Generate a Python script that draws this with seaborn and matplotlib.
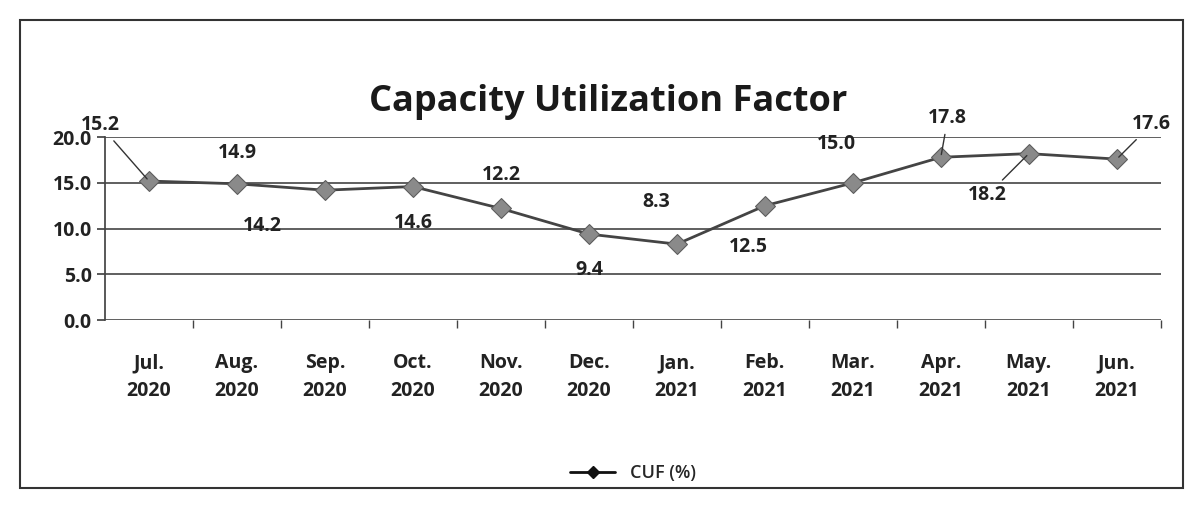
import matplotlib
matplotlib.use("Agg")
import matplotlib.pyplot as plt
import seaborn as sns
import pandas as pd
from matplotlib.patches import Rectangle
from matplotlib.lines import Line2D

months = ["Jul.\n2020", "Aug.\n2020", "Sep.\n2020", "Oct.\n2020", "Nov.\n2020", "Dec.\n2020",
          "Jan.\n2021", "Feb.\n2021", "Mar.\n2021", "Apr.\n2021", "May.\n2021", "Jun.\n2021"]
cuf = [15.2, 14.9, 14.2, 14.6, 12.2, 9.4, 8.3, 12.5, 15.0, 17.8, 18.2, 17.6]
yticks = [0, 5, 10, 15, 20]

df = pd.DataFrame({"month": months, "CUF (%)": cuf, "pos": range(len(months))})

sns.set_theme(style="white")
plt.rcParams["font.family"] = ["Open Sans", "DejaVu Sans"]

fig = plt.figure(figsize=(11.93, 5.08), dpi=100)
ax = fig.add_axes([0.088, 0.37, 0.885, 0.36])

sns.lineplot(data=df, x="pos", y="CUF (%)", ax=ax, color="#444444", linewidth=2,
             marker="D", markersize=10, markerfacecolor="#8a8a8a", markeredgecolor="#5a5a5a",
             legend=False)

for y in yticks:
    ax.axhline(y, color="#444444", linewidth=1.2, zorder=0)

# label offsets in points (dx, dy) and whether a leader line is drawn
offsets = [(-35, 40, True), (0, 22, False), (-45, -26, False), (0, -26, False),
           (0, 24, False), (0, -26, False), (-15, 30, False), (-12, -30, False),
           (-12, 28, False), (5, 28, True), (-30, -30, True), (25, 25, True)]
for i, (v, (dx, dy, lead)) in enumerate(zip(cuf, offsets)):
    props = dict(arrowstyle="-", color="#333333", lw=1) if lead else None
    ax.annotate(f"{v:.1f}", xy=(i, v), xytext=(dx, dy), textcoords="offset points",
                ha="center", va="center", fontsize=14, fontweight="bold", color="#222222",
                arrowprops=props)

ax.set_xlim(-0.5, len(months) - 0.5)
ax.set_ylim(0, 20)
ax.set_yticks(yticks)
ax.set_yticklabels([f"{t:.1f}" for t in yticks], fontsize=14, fontweight="bold", color="#222222")
ax.set_xticks(range(len(months)))
ax.set_xticklabels(months, fontsize=14, fontweight="bold", color="#222222", linespacing=1.5)
ax.set_xticks([i + 0.5 for i in range(len(months))], minor=True)
ax.tick_params(axis="x", which="major", pad=24, length=0)
ax.tick_params(axis="x", which="minor", bottom=True, length=6, color="#444444")
ax.tick_params(axis="y", length=6, left=True, color="#444444")
ax.set_xlabel("")
ax.set_ylabel("")
for s in ["top", "right", "bottom"]:
    ax.spines[s].set_visible(False)
ax.spines["left"].set_color("#444444")

handle = Line2D([], [], color="#111111", linewidth=2, marker="D", markersize=6,
                markerfacecolor="#111111", markeredgecolor="#111111")
ax.legend([handle], ["CUF (%)"], loc="upper center", bbox_to_anchor=(0.5, -0.70),
          frameon=False, prop={"size": 13, "weight": "semibold"}, handlelength=2.5)

fig.text(0.51, 0.80, "Capacity Utilization Factor", ha="center", va="center",
         fontsize=26, fontweight="bold", color="#1a1a1a")

fig.patches.append(Rectangle((0.017, 0.04), 0.975, 0.92, transform=fig.transFigure,
                             fill=False, edgecolor="#333333", linewidth=1.5))

fig.savefig("out.png", dpi=100, facecolor="white")
